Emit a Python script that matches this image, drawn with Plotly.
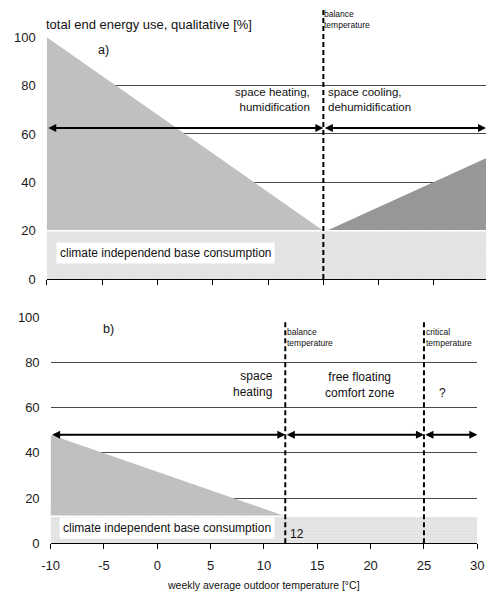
import plotly.graph_objects as go

# ---------------- data ----------------
x_ticks = [-10, -5, 0, 5, 10, 15, 20, 25, 30]
x_tick_labels = ["-10", "-5", "0", "5", "10", "15", "20", "25", "30"]
y_ticks = [0, 20, 40, 60, 80, 100]

# panel a)
a_base_level = 20
a_heat_x = [-10, 15]
a_heat_y = [100, 20]
a_cool_x = [15.3, 30]
a_cool_y = [20, 50.6]
a_balance_temp = 15
a_arrow_level = 62.5
a_arrow_segments = [(-10, 15), (15, 29.7)]

# panel b)
b_base_level = 12
b_heat_x = [-10, 12]
b_heat_y = [48, 12]
b_balance_temp = 12
b_critical_temp = 25
b_arrow_level = 48
b_arrow_segments = [(-10, 12), (12, 25), (25, 30)]

W, H = 493, 602
FONT = "Liberation Sans, Arial, sans-serif"
C_HEAT = "#c0c0c0"
C_COOL = "#979797"
C_BASE = "#e3e3e3"
GRID = "#4a4a4a"


def py(p):
    return 1 - p / H


def px(p):
    return p / W


base_pattern = dict(shape=".", bgcolor="#e6e6e6", fgcolor="#d6d6d6", size=3, solidity=0.35)

fig = go.Figure()

# ---- panel a traces ----
fig.add_trace(go.Scatter(x=[x_ticks[0], x_ticks[-1]], y=[a_base_level, a_base_level],
                         fill="tozeroy", fillcolor=C_BASE, fillpattern=base_pattern,
                         mode="lines", line=dict(width=0), xaxis="x", yaxis="y",
                         hoverinfo="skip"))
fig.add_trace(go.Scatter(x=a_heat_x + [a_heat_x[0]], y=a_heat_y + [a_base_level],
                         fill="toself", fillcolor=C_HEAT, mode="lines",
                         line=dict(width=0), xaxis="x", yaxis="y", hoverinfo="skip"))
fig.add_trace(go.Scatter(x=a_cool_x + [a_cool_x[-1]], y=a_cool_y + [a_base_level],
                         fill="toself", fillcolor=C_COOL, mode="lines",
                         line=dict(width=0), xaxis="x", yaxis="y", hoverinfo="skip"))
fig.add_trace(go.Scatter(x=[x_ticks[0], x_ticks[-1]], y=[a_base_level, a_base_level],
                         mode="lines", line=dict(color="white", width=1.5),
                         xaxis="x", yaxis="y", hoverinfo="skip"))

# ---- panel b traces ----
fig.add_trace(go.Scatter(x=[x_ticks[0], x_ticks[-1]], y=[b_base_level, b_base_level],
                         fill="tozeroy", fillcolor=C_BASE, fillpattern=base_pattern,
                         mode="lines", line=dict(width=0), xaxis="x2", yaxis="y2",
                         hoverinfo="skip"))
fig.add_trace(go.Scatter(x=b_heat_x + [b_heat_x[0]], y=b_heat_y + [b_base_level],
                         fill="toself", fillcolor=C_HEAT, mode="lines",
                         line=dict(width=0), xaxis="x2", yaxis="y2", hoverinfo="skip"))
fig.add_trace(go.Scatter(x=[x_ticks[0], x_ticks[-1]], y=[b_base_level, b_base_level],
                         mode="lines", line=dict(color="white", width=1.5),
                         xaxis="x2", yaxis="y2", hoverinfo="skip"))

axis_common = dict(showgrid=False, zeroline=False, ticks="outside", ticklen=5,
                   tickcolor="black", showline=True, linecolor="black", linewidth=1,
                   tickvals=x_ticks, ticktext=x_tick_labels,
                   tickfont=dict(family=FONT, size=13, color="#1a1a1a"))
yaxis_common = dict(range=[0, 100], tickvals=y_ticks, showgrid=True, gridcolor=GRID,
                    gridwidth=1, zeroline=False, showline=False, ticks="",
                    ticklabelstandoff=10,
                    tickfont=dict(family=FONT, size=13, color="#1a1a1a"))

fig.update_layout(
    width=W, height=H, margin=dict(l=0, r=0, t=0, b=0),
    paper_bgcolor="white", plot_bgcolor="white", showlegend=False,
    xaxis=dict(domain=[px(39), 1], range=[-10, 29.7], anchor="y",
               showticklabels=False, **axis_common),
    yaxis=dict(domain=[py(279), py(31)], anchor="x", **yaxis_common),
    xaxis2=dict(domain=[px(43), px(484)], range=[-10, 30], anchor="y2",
                showticklabels=True, ticklabelstandoff=5, **axis_common),
    yaxis2=dict(domain=[py(550), py(318)], anchor="x2", **yaxis_common),
)

# dashed vertical lines
dash = dict(color="black", width=2, dash="5px,3px")
fig.add_shape(type="line", xref="x", yref="paper", x0=a_balance_temp, x1=a_balance_temp,
              y0=py(279), y1=1, line=dash)
for t in (b_balance_temp, b_critical_temp):
    fig.add_shape(type="line", xref="x2", yref="paper", x0=t, x1=t,
                  y0=py(550), y1=py(322), line=dash)


# arrows
def arrow(xr, yr, x0, x1, yv):
    fig.add_annotation(xref=xr, yref=yr, axref=xr, ayref=yr, x=x1, y=yv, ax=x0, ay=yv,
                       text="", showarrow=True, arrowhead=2, arrowside="end+start",
                       arrowsize=0.8, arrowwidth=2, arrowcolor="black",
                       standoff=0, startstandoff=0)


for s, e in a_arrow_segments:
    arrow("x", "y", s, e, a_arrow_level)
for s, e in b_arrow_segments:
    arrow("x2", "y2", s, e, b_arrow_level)


def txt(text, xref, x, ypix, size=12, xanchor="left", **kw):
    fig.add_annotation(xref=xref, yref="paper", x=x, y=py(ypix), text=text,
                       showarrow=False, xanchor=xanchor, yanchor="middle",
                       align=xanchor, borderpad=0,
                       font=dict(family=FONT, size=size, color="#111"), **kw)


# panel a texts
txt("total end energy use, qualitative [%]", "paper", px(37), 18, size=13)
txt("a)", "x", -5.45, 44, size=12.5)
txt("space heating,<br>humidification", "x", 13.9, 94.5, size=11.5, xanchor="right")
txt("space cooling,<br>dehumidification", "x", 15.3, 94.5, size=11.5)
txt("balance<br>temperature", "x", 14.95, 13, size=8.5)
fig.add_annotation(xref="x", yref="y", x=-9.15, y=10.9, text="climate independend base consumption",
                   showarrow=False, xanchor="left", yanchor="middle", bgcolor="white",
                   borderpad=3, font=dict(family=FONT, size=12, color="#111"))

# panel b texts
txt("b)", "x2", -5.2, 330, size=12.5)
txt("balance<br>temperature", "x2", 12.1, 339, size=8.5)
txt("critical<br>temperature", "x2", 25.1, 339, size=8.5)
txt("space<br>heating", "x2", 10.9, 387, size=12, xanchor="right")
txt("free floating<br>comfort zone", "x2", 19.0, 388, size=12, xanchor="center")
txt("?", "x2", 26.7, 396, size=12, xanchor="center")
txt("12", "x2", 12.35, 540, size=12)
fig.add_annotation(xref="x2", yref="y2", x=-9.25, y=6.9, text="climate independent base consumption",
                   showarrow=False, xanchor="left", yanchor="middle", bgcolor="white",
                   borderpad=3, font=dict(family=FONT, size=12, color="#111"))
txt("weekly average outdoor temperature [°C]", "paper", px(263), 593, size=10.5,
    xanchor="center")

# remove the browser's default 8px body margin so the figure sits at the page origin
fig.write_html("out.html", config={"displayModeBar": False},
               post_script="document.body.style.margin='0';")
